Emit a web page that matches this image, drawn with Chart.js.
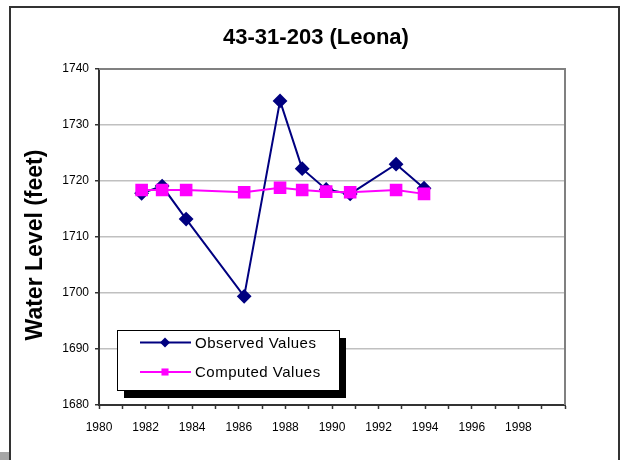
<!DOCTYPE html>
<html>
<head>
<meta charset="utf-8">
<script src="https://cdn.jsdelivr.net/npm/chart.js@4.4.1/dist/chart.umd.min.js"></script>
<style>
  html, body { margin: 0; padding: 0; background: #fff; }
  #wrap { width: 622px; height: 460px; }
</style>
</head>
<body>
<div id="wrap"><canvas id="myChart" width="622" height="460"></canvas></div>
<script>
// values
const years = [1981.83, 1982.71, 1983.74, 1986.23, 1987.77, 1988.72, 1989.75, 1990.78, 1992.75, 1993.95];
const observed = [1717.8, 1719.1, 1713.2, 1699.4, 1734.3, 1722.2, 1718.5, 1717.7, 1723.0, 1718.7];
const computed = [1718.4, 1718.4, 1718.4, 1718.0, 1718.8, 1718.4, 1718.1, 1718.0, 1718.4, 1717.7];
const xLabels = [1980, 1982, 1984, 1986, 1988, 1990, 1992, 1994, 1996, 1998];
const seriesNames = ['Observed Values', 'Computed Values'];
const chartTitle = '43-31-203 (Leona)';
const yTitle = 'Water Level (feet)';

const FONT = "'Liberation Sans', Arial, sans-serif";

function pts(vals) {
    return years.map(function (yr, i) { return {x: yr, y: vals[i]}; });
}

// frame, title, plot border, y title, legend
const extras = {
    id: 'extras',
    beforeDraw: function (chart) {
        const c = chart.ctx;
        c.save();
        c.fillStyle = '#fff';
        c.fillRect(0, 0, chart.width, chart.height);
        c.fillStyle = '#a6a6a6';
        c.fillRect(0, 452, 10, 8);
        c.strokeStyle = '#333';
        c.lineWidth = 2;
        c.beginPath();
        c.moveTo(10, 462);
        c.lineTo(10, 7);
        c.lineTo(619, 7);
        c.lineTo(619, 462);
        c.stroke();

        c.fillStyle = '#000';
        c.font = 'bold 22px ' + FONT;
        c.textAlign = 'center';
        c.textBaseline = 'middle';
        c.fillText(chartTitle, 316, 38);
        c.restore();
    },
    afterDatasetsDraw: function (chart) {
        const c = chart.ctx;
        const a = chart.chartArea;
        c.save();
        // gray top/right border of plot
        c.strokeStyle = '#808080';
        c.lineWidth = 2;
        c.beginPath();
        c.moveTo(a.left, a.top);
        c.lineTo(a.right, a.top);
        c.lineTo(a.right, a.bottom);
        c.stroke();

        // y axis title
        c.fillStyle = '#000';
        c.font = 'bold 23px ' + FONT;
        c.textAlign = 'center';
        c.textBaseline = 'middle';
        c.translate(36, 245);
        c.rotate(-Math.PI / 2);
        c.fillText(yTitle, 0, 0);
        c.restore();

        // legend box with shadow
        c.save();
        const bx = 117, by = 330, bw = 222, bh = 60;
        c.fillStyle = '#000';
        c.fillRect(bx + 7, by + 8, bw, bh);
        c.fillStyle = '#fff';
        c.fillRect(bx, by, bw, bh);
        c.strokeStyle = '#000';
        c.lineWidth = 1;
        c.strokeRect(bx + 0.5, by + 0.5, bw, bh);
        c.font = '15px ' + FONT;
        c.letterSpacing = '0.5px';
        c.textAlign = 'left';
        c.textBaseline = 'middle';
        chart.data.datasets.forEach(function (ds, i) {
            const ly = [342.5, 372][i];
            c.strokeStyle = ds.borderColor;
            c.lineWidth = 2;
            c.beginPath();
            c.moveTo(140, ly);
            c.lineTo(191, ly);
            c.stroke();
            c.fillStyle = ds.pointBackgroundColor;
            Chart.helpers.drawPoint(c, {pointStyle: ds.pointStyle, radius: 5, borderWidth: 0}, 165, ly);
            c.fillStyle = '#000';
            c.fillText(ds.label, 195, ly + 1);
        });
        c.restore();
    }
};

const ctx = document.getElementById('myChart');

var myChart = new Chart(ctx, {
    type: 'scatter',
    data: {
        datasets: [
            {
                label: seriesNames[0],
                data: pts(observed),
                showLine: true,
                borderColor: '#000080',
                borderWidth: 2,
                pointStyle: 'rectRot',
                pointRadius: 6,
                pointBackgroundColor: '#000080',
                pointBorderColor: '#000080',
                order: 1
            },
            {
                label: seriesNames[1],
                data: pts(computed),
                showLine: true,
                borderColor: '#ff00ff',
                borderWidth: 2,
                pointStyle: 'rect',
                pointRadius: 7.5,
                pointBackgroundColor: '#ff00ff',
                pointBorderColor: '#ff00ff',
                order: 0
            }
        ]
    },
    options: {
        responsive: false,
        animation: false,
        events: [],
        layout: {
            padding: {left: 0, top: 69, right: 57, bottom: 0}
        },
        plugins: {
            legend: {display: false},
            tooltip: {enabled: false},
            title: {display: false}
        },
        scales: {
            x: {
                type: 'linear',
                min: 1980,
                max: 2000,
                afterFit: function (s) { s.height = 55; },
                afterBuildTicks: function (s) {
                    s.ticks = [];
                    for (let v = 1980; v <= 2000; v++) s.ticks.push({value: v});
                },
                ticks: {
                    autoSkip: false,
                    maxRotation: 0,
                    color: '#000',
                    padding: 11,
                    font: {family: FONT, size: 12},
                    callback: function (v) { return xLabels.indexOf(v) >= 0 ? String(v) : ''; }
                },
                grid: {
                    drawOnChartArea: false,
                    drawTicks: true,
                    tickLength: 4,
                    tickColor: '#333',
                    tickWidth: 1.5
                },
                border: {color: '#333', width: 2}
            },
            y: {
                min: 1680,
                max: 1740,
                afterFit: function (s) { s.width = 99; },
                ticks: {
                    stepSize: 10,
                    color: '#000',
                    padding: 6,
                    font: {family: FONT, size: 12},
                    callback: function (v) { return String(v); }
                },
                grid: {
                    color: function (c) {
                        return (c.tick.value === 1680 || c.tick.value === 1740) ? 'rgba(0,0,0,0)' : '#c0c0c0';
                    },
                    lineWidth: 1.5,
                    tickLength: 4,
                    tickColor: '#333',
                    tickWidth: 1.5
                },
                border: {color: '#333', width: 2}
            }
        }
    },
    plugins: [extras]
});
</script>
</body>
</html>
